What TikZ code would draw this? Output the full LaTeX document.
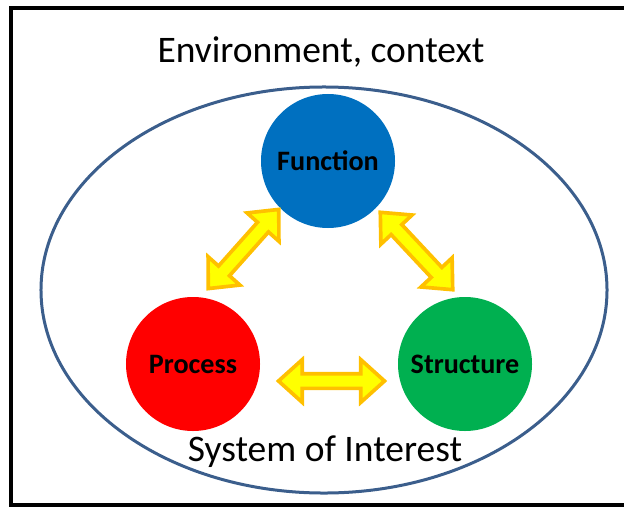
\documentclass[tikz,border=0pt]{standalone}
\usepackage{fontspec}
\setmainfont{Carlito}
\usetikzlibrary{shapes,arrows,positioning,calc}
\definecolor{funcblue}{HTML}{0070C0}
\definecolor{procred}{HTML}{FF0000}
\definecolor{structgreen}{HTML}{00B050}
\definecolor{linkyellow}{HTML}{FFFF00}
\definecolor{linkorange}{HTML}{FFC000}
\definecolor{soiblue}{HTML}{3B5E8C}

\begin{document}
\begin{tikzpicture}[x=0.03cm, y=-0.03cm,
  aspect/.style={circle, minimum size=4.02cm, inner sep=0, font=\fontsize{24}{26}\selectfont\bfseries},
  link/.style={double arrow, draw=linkorange, fill=linkyellow, line width=0.11cm, minimum height=3.18cm, inner xsep=0, inner ysep=0.165cm, double arrow head extend=0.42cm, double arrow tip angle=84},
  caption/.style={font=\fontsize{32}{36}\selectfont}]
  \useasboundingbox (0,0) rectangle (624,507);
  \clip (0,0) rectangle (624,507);
  \draw[line width=0.12cm] (11,8) rectangle (640,505);

  % System and its environment
  \node[draw=soiblue, line width=0.09cm, ellipse, minimum width=16.98cm, minimum height=12.18cm] (soi) at (324,290) {};
  \node[caption] (env) at (321,52) {Environment, context};
  \node[caption] (soitext) at (325,452) {System of Interest};

  % The three aspects
  \node[aspect, fill=funcblue] (func) at (328,161) {Function};
  \node[aspect, fill=procred] (proc) at (193,364) {Process};
  \node[aspect, fill=structgreen] (struct) at (465,364) {Structure};

  % Links between the aspects
  \node[link, rotate=48.3] (fp) at (243.5,249) {};
  \node[link, rotate=-46.9] (fs) at (416.5,251) {};
  \node[link] (ps) at (331.5,381) {};
\end{tikzpicture}
\end{document}
